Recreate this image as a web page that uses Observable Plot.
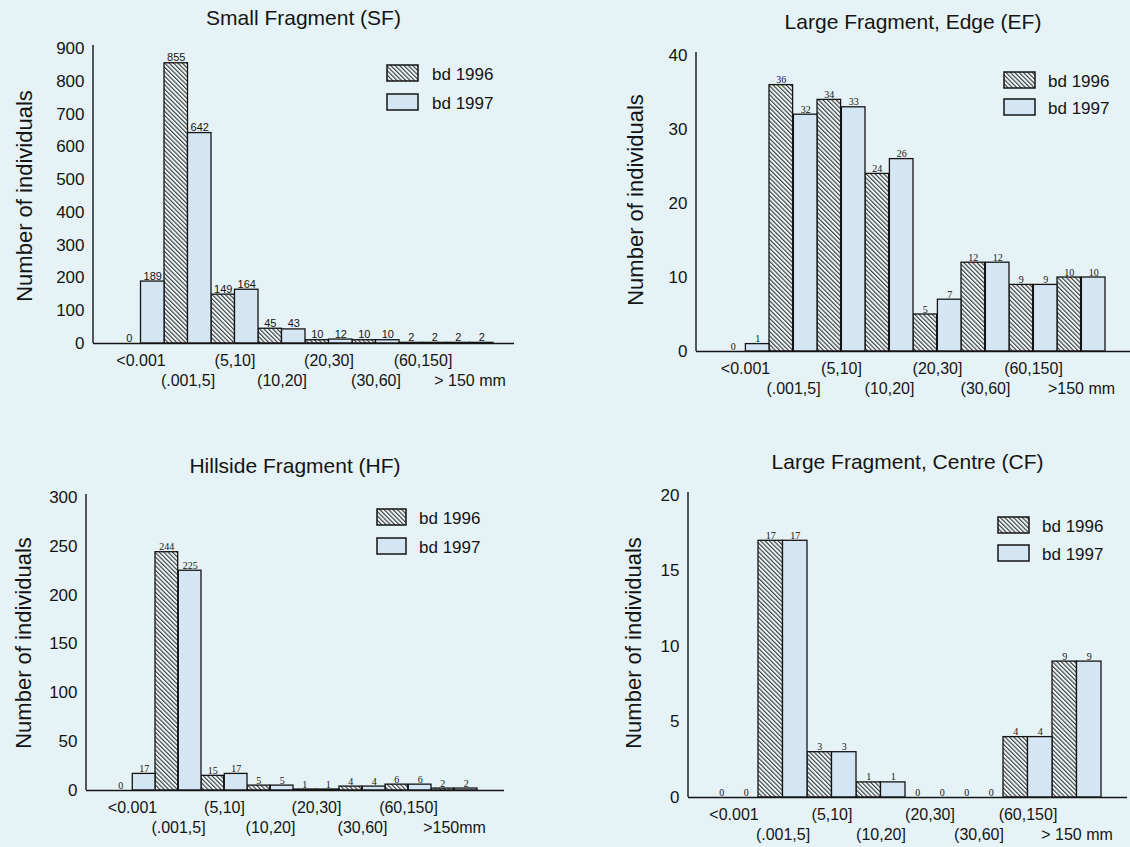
<!DOCTYPE html>
<html>
<head>
<meta charset="utf-8">
<script src="https://cdn.jsdelivr.net/npm/d3@7"></script>
<script src="https://cdn.jsdelivr.net/npm/@observablehq/plot@0.6"></script>
<style>
html, body { margin: 0; padding: 0; background: #e6f3f6; }
#root { position: relative; width: 1130px; height: 847px; overflow: hidden; background: #e6f3f6;
  font-family: "Liberation Sans", Arial, sans-serif; }
.panel { position: absolute; }
.panel svg { overflow: visible; }
</style>
</head>
<body>
<div id="root"></div>
<script>
// ---------- data ----------
const legendLabels = ["bd 1996", "bd 1997"];
const yLabel = "Number of individuals";

const sfTitle = "Small Fragment (SF)";
const sfTickLabels = ["<0.001", "(.001,5]", "(5,10]", "(10,20]", "(20,30]", "(30,60]", "(60,150]", "> 150 mm"];
const sf1996 = [0, 855, 149, 45, 10, 10, 2, 2];
const sf1997 = [189, 642, 164, 43, 12, 10, 2, 2];
const sfYTicks = [0, 100, 200, 300, 400, 500, 600, 700, 800, 900];

const efTitle = "Large Fragment, Edge (EF)";
const efTickLabels = ["<0.001", "(.001,5]", "(5,10]", "(10,20]", "(20,30]", "(30,60]", "(60,150]", ">150 mm"];
const ef1996 = [0, 36, 34, 24, 5, 12, 9, 10];
const ef1997 = [1, 32, 33, 26, 7, 12, 9, 10];
const efYTicks = [0, 10, 20, 30, 40];

const hfTitle = "Hillside Fragment (HF)";
const hfTickLabels = ["<0.001", "(.001,5]", "(5,10]", "(10,20]", "(20,30]", "(30,60]", "(60,150]", ">150mm"];
const hf1996 = [0, 244, 15, 5, 1, 4, 6, 2];
const hf1997 = [17, 225, 17, 5, 1, 4, 6, 2];
const hfYTicks = [0, 50, 100, 150, 200, 250, 300];

const cfTitle = "Large Fragment, Centre (CF)";
const cfTickLabels = ["<0.001", "(.001,5]", "(5,10]", "(10,20]", "(20,30]", "(30,60]", "(60,150]", "> 150 mm"];
const cf1996 = [0, 17, 3, 1, 0, 0, 4, 9];
const cf1997 = [0, 17, 3, 1, 0, 0, 4, 9];
const cfYTicks = [0, 5, 10, 15, 20];

// ---------- layout (page pixel coordinates) ----------
const BG = "#e6f3f6";
const FILL97 = "#d4e5f3";
const INK = "#141414";

const panels = [
  {id: "sf", title: sfTitle, labels: sfTickLabels, a: sf1996, b: sf1997, yTicks: sfYTicks,
   left: 0, top: 0, W: 560, H: 420, axisX: 93, barStart: 117, barW: 23.5, axisEnd: 514, y0: 343, yTop: 48,
   titleY: 25, ylabX: 24, ylabY: 196, valueFont: "Liberation Sans, Arial, sans-serif", valueSize: 11,
   leg: {x: 387, y1: 65, y2: 94, w: 31, h: 16, tx: 432}},
  {id: "ef", title: efTitle, labels: efTickLabels, a: ef1996, b: ef1997, yTicks: efYTicks,
   left: 560, top: 0, W: 570, H: 420, axisX: 696, barStart: 718, barW: 24.4, axisEnd: 1130, y0: 351, yTop: 55,
   titleY: 29, ylabX: 635, ylabY: 200, valueFont: "Liberation Serif, Times New Roman, serif", valueSize: 10,
   leg: {x: 1004, y1: 72, y2: 99, w: 31, h: 16, tx: 1048}},
  {id: "hf", title: hfTitle, labels: hfTickLabels, a: hf1996, b: hf1997, yTicks: hfYTicks,
   left: 0, top: 420, W: 560, H: 427, axisX: 86, barStart: 107, barW: 23.3, axisEnd: 504, y0: 790, yTop: 497,
   titleY: 473, ylabX: 23, ylabY: 643, valueFont: "Liberation Serif, Times New Roman, serif", valueSize: 10,
   leg: {x: 377, y1: 509, y2: 538, w: 29, h: 16, tx: 419}},
  {id: "cf", title: cfTitle, labels: cfTickLabels, a: cf1996, b: cf1997, yTicks: cfYTicks,
   left: 560, top: 420, W: 570, H: 427, axisX: 688, barStart: 709, barW: 24.5, axisEnd: 1127, y0: 797, yTop: 495,
   titleY: 469, ylabX: 633, ylabY: 643, valueFont: "Liberation Serif, Times New Roman, serif", valueSize: 10,
   leg: {x: 998, y1: 517, y2: 545, w: 31, h: 16, tx: 1042}}
];

const root = document.getElementById("root");

for (const cfg of panels) {
  const rows = cfg.labels.map((cat, i) => ({cat, v96: cfg.a[i], v97: cfg.b[i]}));
  const ml = cfg.axisX - cfg.left;
  const mr = cfg.left + cfg.W - cfg.axisEnd;
  const mt = cfg.yTop - cfg.top;
  const mb = cfg.top + cfg.H - cfg.y0;
  const inL = cfg.barStart - cfg.axisX;
  const inR = cfg.axisEnd - (cfg.barStart + 2 * cfg.labels.length * cfg.barW);
  const bw = cfg.barW;
  const row1 = cfg.labels.filter((d, i) => i % 2 === 0);
  const row2 = cfg.labels.filter((d, i) => i % 2 === 1);
  const vText = {fontFamily: cfg.valueFont, fontSize: cfg.valueSize, fill: INK, lineAnchor: "bottom", dy: -2};
  const yMax = cfg.yTicks[cfg.yTicks.length - 1];

  const chart = Plot.plot({
    width: cfg.W, height: cfg.H,
    marginLeft: ml, marginRight: mr, marginTop: mt, marginBottom: mb,
    style: {background: "transparent", fontFamily: "Liberation Sans, Arial, sans-serif", fontSize: "16px", color: INK, overflow: "visible"},
    x: {type: "band", domain: cfg.labels, padding: 0, insetLeft: inL, insetRight: inR},
    y: {domain: [0, yMax]},
    marks: [
      Plot.barY(rows, {x: "cat", y: "v96", insetRight: bw, insetLeft: 0, fill: `url(#hatch-${cfg.id})`, stroke: INK, strokeWidth: 1.3}),
      Plot.barY(rows, {x: "cat", y: "v97", insetLeft: bw, insetRight: 0, fill: FILL97, stroke: INK, strokeWidth: 1.3}),
      Plot.text(rows, {x: "cat", y: "v96", text: "v96", dx: -bw / 2, ...vText}),
      Plot.text(rows, {x: "cat", y: "v97", text: "v97", dx: bw / 2, ...vText}),
      Plot.ruleY([0], {stroke: INK, strokeWidth: 1.6}),
      Plot.axisY(cfg.yTicks, {tickSize: 0, tickPadding: 9, fontSize: 17, label: null}),
      Plot.axisX(row1, {tickSize: 0, tickPadding: 11, fontSize: 16, label: null}),
      Plot.axisX(row2, {tickSize: 0, tickPadding: 31, fontSize: 16, label: null})
    ]
  });

  const svg = d3.select(chart);
  // hatch pattern
  const defs = svg.insert("defs", ":first-child");
  const pat = defs.append("pattern")
    .attr("id", `hatch-${cfg.id}`)
    .attr("patternUnits", "userSpaceOnUse")
    .attr("width", 3.1).attr("height", 10)
    .attr("patternTransform", "rotate(-45)");
  pat.append("rect").attr("width", 3.1).attr("height", 10).attr("fill", "#eef7f9");
  pat.append("line").attr("x1", 0.6).attr("x2", 0.6).attr("y1", 0).attr("y2", 10)
    .attr("stroke", "#222").attr("stroke-width", 1.0);

  // y-axis line
  svg.append("line")
    .attr("x1", ml).attr("x2", ml)
    .attr("y1", mt - 3).attr("y2", cfg.H - mb)
    .attr("stroke", INK).attr("stroke-width", 1.4);

  // title
  svg.append("text")
    .attr("x", (ml + cfg.W - mr) / 2).attr("y", cfg.titleY - cfg.top)
    .attr("text-anchor", "middle")
    .attr("font-size", 21).attr("fill", INK)
    .text(cfg.title);

  // y label
  svg.append("text")
    .attr("transform", `translate(${cfg.ylabX - cfg.left},${cfg.ylabY - cfg.top}) rotate(-90)`)
    .attr("text-anchor", "middle").attr("dy", "0.35em")
    .attr("font-size", 22).attr("fill", INK)
    .text(yLabel);

  // legend
  const L = cfg.leg;
  const lg = svg.append("g").attr("text-anchor", "start");
  [L.y1, L.y2].forEach((yy, k) => {
    lg.append("rect")
      .attr("x", L.x - cfg.left).attr("y", yy - cfg.top)
      .attr("width", L.w).attr("height", L.h)
      .attr("fill", k === 0 ? `url(#hatch-${cfg.id})` : FILL97)
      .attr("stroke", INK).attr("stroke-width", 1.5);
    lg.append("text")
      .attr("x", L.tx - cfg.left).attr("y", yy - cfg.top + L.h - 1)
      .attr("text-anchor", "start")
      .attr("font-size", 17).attr("fill", INK)
      .text(legendLabels[k]);
  });

  const div = document.createElement("div");
  div.className = "panel";
  div.style.left = cfg.left + "px";
  div.style.top = cfg.top + "px";
  div.style.width = cfg.W + "px";
  div.style.height = cfg.H + "px";
  div.appendChild(chart);
  root.appendChild(div);
}
</script>
</body>
</html>
